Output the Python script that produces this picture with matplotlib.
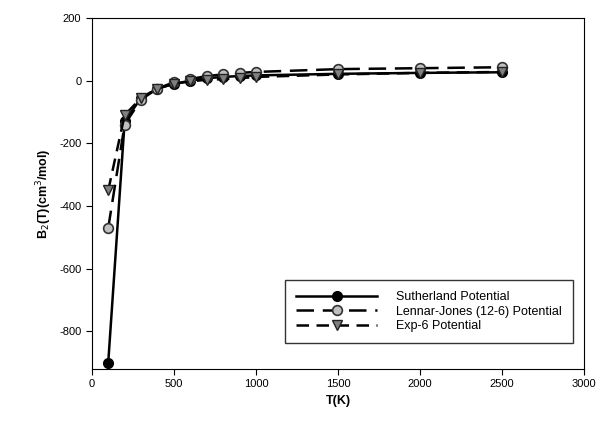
import matplotlib
matplotlib.use("Agg")
import matplotlib.pyplot as plt

plt.rcParams['font.family'] = ['Liberation Sans', 'DejaVu Sans']
plt.rcParams['axes.unicode_minus'] = False

T = [100, 200, 300, 400, 500, 600, 700, 800, 900, 1000, 1500, 2000, 2500]
sutherland = [-900, -130, -55, -25, -10, 0, 8, 12, 15, 17, 22, 25, 27]
lennard_jones = [-470, -140, -60, -25, -5, 5, 15, 20, 25, 28, 37, 40, 43]
exp6 = [-350, -110, -55, -25, -10, -2, 3, 5, 8, 12, 20, 25, 28]

fig = plt.figure(figsize=(6.08, 4.30), dpi=100)
ax = fig.add_axes([0.151, 0.142, 0.810, 0.816])

ax.plot(T, sutherland, '-', color='black', lw=1.8, marker='o', ms=7,
        mfc='black', mec='black', label='Sutherland Potential')
ax.plot(T, lennard_jones, color='black', lw=1.8, ls=(0, (7, 3.5)), marker='o', ms=7,
        mfc='#c0c0c0', mec='#333333', mew=1.2, label='Lennar-Jones (12-6) Potential')
ax.plot(T, exp6, color='black', lw=1.8, ls=(0, (5, 3)), marker='v', ms=7,
        mfc='#808080', mec='#222222', mew=1.0, label='Exp-6 Potential')

ax.set_xlim(0, 3000)
ax.set_ylim(-920, 200)
ax.set_xticks([0, 500, 1000, 1500, 2000, 2500, 3000])
ax.set_yticks([-800, -600, -400, -200, 0, 200])
ax.tick_params(direction='out', length=4, labelsize=8)
ax.set_xlabel('T(K)', fontsize=9, fontweight='bold')
ax.set_ylabel('B$_2$(T)(cm$^3$/mol)', fontsize=9, fontweight='bold')

leg = ax.legend(loc='lower right', bbox_to_anchor=(0.99, 0.055), fontsize=9,
                frameon=True, fancybox=False, edgecolor='black', handlelength=6.5,
                handletextpad=1.5, borderpad=0.9, labelspacing=0.2)
leg.get_frame().set_linewidth(1.0)

fig.savefig('out.png', dpi=100)
